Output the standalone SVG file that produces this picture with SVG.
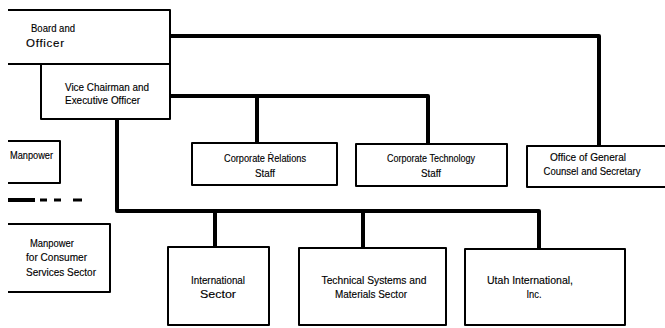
<svg xmlns="http://www.w3.org/2000/svg" width="665" height="328" viewBox="0 0 665 328">
  <style>
    .box { fill: none; stroke: #000; stroke-width: 2; stroke-linejoin: round; }
    .link { fill: none; stroke: #000; stroke-width: 4; stroke-linejoin: round; }
    .t { font-family: "Liberation Sans", Arial, sans-serif; font-size: 11.5px; fill: #000; stroke: #000; stroke-width: 0.15; }
    .c { text-anchor: middle; }
  </style>
  <rect width="665" height="328" fill="#fff"/>

  <!-- connectors -->
  <g id="connectors">
    <path class="link" d="M170 36 H599 V146"/>
    <path class="link" d="M170 96 H428 V143"/>
    <path class="link" d="M257 96 V142"/>
    <path class="link" d="M117 119 V211 H539 V249"/>
    <path class="link" d="M215 211 V247"/>
    <path class="link" d="M363 211 V248"/>
  </g>

  <g id="board">
    <path class="box" d="M8 10 H170 V64 H8"/>
    <text class="t" x="31" y="32" textLength="44" lengthAdjust="spacingAndGlyphs">Board and</text>
    <text class="t" x="26" y="47" font-size="12.5" textLength="38" lengthAdjust="spacing">Officer</text>
  </g>

  <g id="vice-chairman">
    <path class="box" d="M41 64 V119 H170 V64"/>
    <text class="t" x="65" y="91" textLength="84" lengthAdjust="spacingAndGlyphs">Vice Chairman and</text>
    <text class="t" x="65" y="104" textLength="75" lengthAdjust="spacingAndGlyphs">Executive Officer</text>
  </g>

  <g id="manpower">
    <path class="box" d="M8 141 H60 V183 H8"/>
    <text class="t" x="10" y="159" textLength="43" lengthAdjust="spacingAndGlyphs">Manpower</text>
  </g>

  <g id="legend">
    <path d="M8 200 H35" stroke="#000" stroke-width="4" fill="none"/>
    <path d="M40 200 H47 M54 200 H61 M73 200 H82" stroke="#000" stroke-width="3" fill="none"/>
  </g>

  <g id="manpower-consumer">
    <path class="box" d="M8 224 H110 V292 H8"/>
    <text class="t" x="30" y="247" textLength="44" lengthAdjust="spacingAndGlyphs">Manpower</text>
    <text class="t" x="26" y="261" textLength="61" lengthAdjust="spacingAndGlyphs">for Consumer</text>
    <text class="t" x="26" y="276" textLength="70" lengthAdjust="spacingAndGlyphs">Services Sector</text>
  </g>

  <g id="corporate-relations">
    <rect class="box" x="192" y="143" width="145" height="42"/>
    <text class="t c" x="265" y="162" textLength="82" lengthAdjust="spacingAndGlyphs">Corporate Ṙelations</text>
    <text class="t c" x="265" y="177" textLength="20" lengthAdjust="spacingAndGlyphs">Staff</text>
  </g>

  <g id="corporate-technology">
    <rect class="box" x="356" y="144" width="151" height="42"/>
    <text class="t c" x="431" y="162" textLength="88" lengthAdjust="spacingAndGlyphs">Corporate Technology</text>
    <text class="t c" x="431" y="177" textLength="20" lengthAdjust="spacingAndGlyphs">Staff</text>
  </g>

  <g id="general-counsel">
    <path class="box" d="M666 146 H527 V187 H666"/>
    <text class="t c" x="588" y="161" textLength="76" lengthAdjust="spacingAndGlyphs">Office of General</text>
    <text class="t c" x="592" y="175" textLength="97" lengthAdjust="spacingAndGlyphs">Counsel and Secretary</text>
  </g>

  <g id="international">
    <rect class="box" x="168" y="247" width="101" height="78"/>
    <text class="t c" x="218" y="284" textLength="54" lengthAdjust="spacingAndGlyphs">International</text>
    <text class="t c" x="218" y="298" textLength="36" lengthAdjust="spacingAndGlyphs">Sector</text>
  </g>

  <g id="technical-systems">
    <rect class="box" x="299" y="248" width="147" height="77"/>
    <text class="t c" x="374" y="284" textLength="105" lengthAdjust="spacingAndGlyphs">Technical Systems and</text>
    <text class="t c" x="371" y="298" textLength="72" lengthAdjust="spacingAndGlyphs">Materials Sector</text>
  </g>

  <g id="utah">
    <rect class="box" x="465" y="249" width="160" height="76"/>
    <text class="t c" x="530" y="284" textLength="86" lengthAdjust="spacingAndGlyphs">Utah International,</text>
    <text class="t c" x="534" y="298" textLength="15" lengthAdjust="spacingAndGlyphs">Inc.</text>
  </g>
</svg>
